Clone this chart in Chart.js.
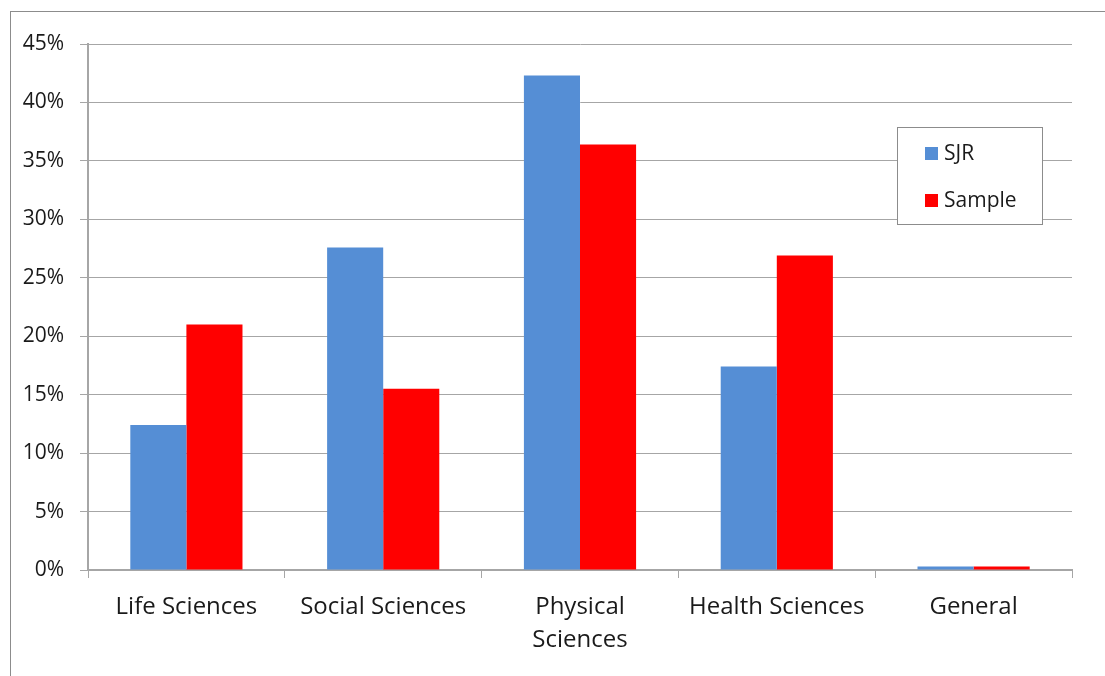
<!DOCTYPE html>
<html>
<head>
<meta charset="utf-8">
<script src="https://cdn.jsdelivr.net/npm/chart.js@4/dist/chart.umd.min.js"></script>
<style>
  html, body { margin: 0; padding: 0; background: #fff; }
  #wrap { width: 1105px; height: 676px; }
</style>
</head>
<body>
<div id="wrap"><canvas id="c" width="1105" height="676"></canvas></div>
<script>
// Share of journals by subject area (percent)
const categories = ["Life Sciences", "Social Sciences", ["Physical", "Sciences"], "Health Sciences", "General"];
const sjrValues = [12.4, 27.6, 42.3, 17.4, 0.3];
const sampleValues = [21.0, 15.5, 36.4, 26.9, 0.3];
const seriesNames = ["SJR", "Sample"];
const seriesColors = ["#558ED5", "#FF0000"];
const yTicks = [0, 5, 10, 15, 20, 25, 30, 35, 40, 45];

const FONT = "'Open Sans', 'Liberation Sans', sans-serif";
const GRID = "#A6A6A6";
const TEXT = "#1a1a1a";

// White page with a thin frame around the chart object
const framePlugin = {
  id: 'frame',
  beforeDraw(chart) {
    const ctx = chart.ctx;
    ctx.save();
    ctx.fillStyle = '#fff';
    ctx.fillRect(0, 0, chart.width, chart.height);
    ctx.strokeStyle = '#8C8C8C';
    ctx.lineWidth = 1;
    ctx.strokeRect(10.5, 11.5, chart.width + 10, chart.height + 10);
    ctx.restore();
  }
};

// Boxed legend placed inside the plot on the right
const boxLegend = {
  id: 'boxLegend',
  afterDraw(chart) {
    const ctx = chart.ctx;
    const x = 897.5, y = 127.5, w = 145, h = 97;
    ctx.save();
    ctx.fillStyle = '#fff';
    ctx.fillRect(x, y, w, h);
    ctx.strokeStyle = '#8C8C8C';
    ctx.lineWidth = 1;
    ctx.strokeRect(x, y, w, h);
    ctx.font = "21px " + FONT;
    ctx.textBaseline = 'middle';
    chart.data.datasets.forEach((ds, i) => {
      const cy = 153 + i * 47;
      ctx.fillStyle = ds.backgroundColor;
      ctx.fillRect(925, cy - 6, 13, 13);
      ctx.fillStyle = TEXT;
      ctx.fillText(ds.label, 944, cy + 1);
    });
    ctx.restore();
  }
};

new Chart(document.getElementById('c'), {
  type: 'bar',
  data: {
    labels: categories,
    datasets: [
      { label: seriesNames[0], data: sjrValues, backgroundColor: seriesColors[0] },
      { label: seriesNames[1], data: sampleValues, backgroundColor: seriesColors[1] }
    ]
  },
  options: {
    responsive: false,
    animation: false,
    layout: { padding: { top: 44, right: 33, left: 0, bottom: 0 } },
    datasets: { bar: { categoryPercentage: 0.57, barPercentage: 1.0, borderWidth: 0 } },
    plugins: {
      legend: { display: false },
      tooltip: { enabled: false }
    },
    scales: {
      x: {
        grid: { display: true, drawOnChartArea: false, drawTicks: true, tickLength: 8, color: GRID, offset: true },
        border: { display: true, color: GRID, width: 2 },
        ticks: { color: TEXT, font: { family: FONT, size: 24, lineHeight: 1.4 }, padding: 12, maxRotation: 0, autoSkip: false },
        afterFit(scale) { scale.height = 106; }
      },
      y: {
        min: 0,
        max: 45,
        afterBuildTicks(scale) { scale.ticks = yTicks.map(v => ({ value: v })); },
        grid: { color: GRID, lineWidth: 1, tickLength: 8 },
        border: { display: true, color: GRID, width: 2 },
        ticks: {
          color: TEXT,
          font: { family: FONT, size: 21 },
          padding: 16,
          callback: v => v + '%'
        },
        afterFit(scale) { scale.width = 88; }
      }
    }
  },
  plugins: [framePlugin, boxLegend]
});
</script>
</body>
</html>
